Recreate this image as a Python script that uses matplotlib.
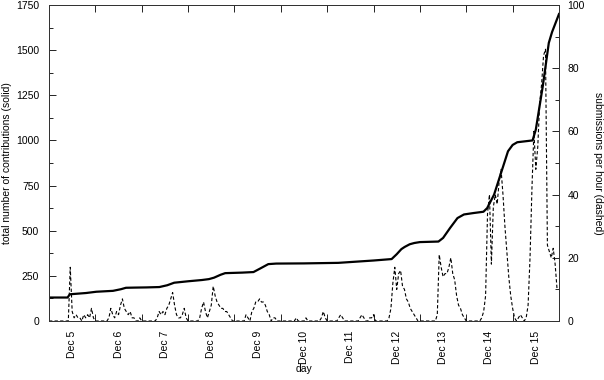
import numpy as np
import matplotlib
matplotlib.use("Agg")
from matplotlib import pyplot as plt
from matplotlib.ticker import MultipleLocator

plt.rcParams['font.family'] = ['Liberation Sans', 'DejaVu Sans']

day_labels = ["Dec 5", "Dec 6", "Dec 7", "Dec 8", "Dec 9", "Dec 10",
              "Dec 11", "Dec 12", "Dec 13", "Dec 14", "Dec 15"]

# cumulative contributions, read at (day offset from Dec 5 00:00, total)
t_total = [0, 0.40, 0.45, 0.80, 1.02, 1.38, 1.55, 1.66, 1.85, 2.10, 2.38, 2.55,
           2.70, 3.00, 3.30, 3.45, 3.56, 3.70, 3.80, 4.17, 4.41, 4.55, 4.73,
           4.90, 5.50, 6.24, 7.00, 7.39, 7.50, 7.60, 7.67, 7.78, 7.88, 8.00,
           8.40, 8.50, 8.65, 8.81, 8.95, 9.16, 9.37, 9.45, 9.60, 9.75, 9.90,
           10.00, 10.10, 10.43, 10.50, 10.65, 10.78, 10.85, 11.0]
total = [130, 130, 148, 155, 162, 167, 176, 184, 185, 186, 188, 198,
         212, 220, 227, 232, 240, 256, 265, 268, 271, 290, 315,
         318, 319, 322, 335, 343, 370, 398, 410, 425, 432, 437,
         440, 460, 515, 570, 590, 598, 605, 625, 700, 820, 940,
         975, 990, 1000, 1060, 1300, 1540, 1600, 1700]

# submissions per hour, one row of 24 hours per day
per_hour = [
    [0, 0, 0, 0, 0, 0, 0, 0, 0, 0, 0, 17, 3, 1, 2, 1, 1, 0, 2, 1, 2, 1, 4, 1],   # Dec 5
    [0, 0, 0, 0, 0, 0, 0, 1, 4, 2, 1, 3, 2, 5, 7, 4, 3, 2, 3, 1, 1, 0, 0, 1],    # Dec 6
    [0, 0, 0, 0, 0, 0, 0, 0, 1, 3, 2, 3, 2, 4, 5, 7, 9, 5, 2, 1, 1, 2, 4, 1],    # Dec 7
    [0, 0, 0, 0, 0, 0, 1, 4, 6, 3, 1, 3, 5, 11, 8, 6, 5, 4, 4, 3, 3, 2, 1, 0],   # Dec 8
    [0, 0, 0, 0, 0, 0, 2, 1, 0, 3, 4, 6, 6, 7, 6, 6, 5, 3, 2, 0, 1, 1, 0, 0],    # Dec 9
    [0, 0, 0, 0, 0, 0, 0, 0, 1, 0, 0, 0, 0, 1, 0, 0, 0, 0, 0, 0, 0, 1, 3, 1],    # Dec 10
    [0, 0, 0, 0, 0, 0, 1, 2, 1, 0, 0, 0, 0, 0, 0, 0, 0, 1, 2, 1, 0, 0, 1, 1],    # Dec 11
    [2, 0, 0, 0, 0, 0, 0, 0, 1, 4, 12, 17, 10, 15, 16, 11, 10, 7, 6, 4, 3, 2, 1, 0],      # Dec 12
    [0, 0, 0, 0, 0, 0, 0, 0, 0, 2, 21, 17, 14, 15, 15, 17, 20, 15, 13, 8, 5, 4, 2, 1],    # Dec 13
    [0, 0, 0, 0, 0, 0, 0, 0, 1, 3, 8, 34, 40, 18, 36, 40, 37, 44, 48, 40, 30, 22, 14, 8], # Dec 14
    [4, 1, 0, 1, 2, 1, 0, 1, 5, 20, 42, 60, 48, 55, 69, 75, 84, 86, 24, 22, 20, 23, 18, 10],  # Dec 15
]

rate = np.concatenate(per_hour)
t_rate = np.arange(len(rate)) / 24.0

fig = plt.figure(figsize=(6.04, 3.80), dpi=100)
ax = fig.add_axes([49 / 604, 1 - 321 / 380, 510 / 604, 316 / 380])
ax2 = ax.twinx()

ax.plot(t_total, total, color='black', lw=1.6)
ax2.plot(t_rate, rate, color='black', lw=0.8, dashes=(3, 2))

ax.set_xlim(0, 11.0)
ax.set_ylim(0, 1750)
ax2.set_ylim(0, 100)

ax.yaxis.set_major_locator(MultipleLocator(250))
ax.yaxis.set_minor_locator(MultipleLocator(125))
ax2.yaxis.set_major_locator(MultipleLocator(20))
ax2.yaxis.set_minor_locator(MultipleLocator(10))

# day boundaries get tick marks, day centres get the labels
ax.set_xticks(np.arange(1, 11))
ax.set_xticklabels([])
ax.set_xticks(np.arange(len(day_labels)) + 0.5, minor=True)
ax.set_xticklabels(day_labels, minor=True, rotation=90, fontsize=7.5)

ax.tick_params(axis='x', which='major', direction='in', length=5, width=0.6,
               top=True, bottom=True)
ax.tick_params(axis='x', which='minor', length=0, pad=7)
ax.tick_params(axis='y', which='major', direction='in', length=5, width=0.6,
               labelsize=7.5, pad=7)
ax.tick_params(axis='y', which='minor', direction='in', length=3, width=0.6)
ax2.tick_params(axis='y', which='major', direction='in', length=5, width=0.6,
                labelsize=7.5, pad=6)
ax2.tick_params(axis='y', which='minor', direction='in', length=3, width=0.6)

for a in (ax, ax2):
    for s in a.spines.values():
        s.set_linewidth(0.7)
        s.set_color('#333333')

ax.set_xlabel("day", fontsize=7.5)
ax.xaxis.set_label_coords(0.5, -0.135)
ax.set_ylabel("total number of contributions (solid)", fontsize=7.5, labelpad=3)
ax2.set_ylabel("submissions per hour (dashed)", fontsize=7.5, rotation=-90,
               labelpad=13)

fig.savefig("out.png", dpi=100)
